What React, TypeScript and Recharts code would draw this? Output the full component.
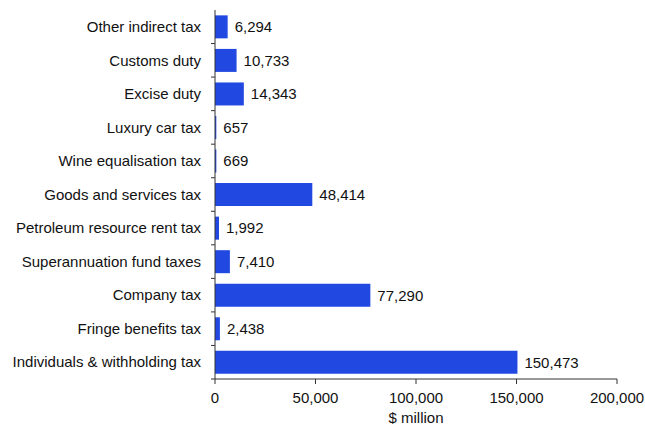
import React from 'react';
import { BarChart, Bar, XAxis, YAxis, LabelList } from 'recharts';

const categories = [
  'Other indirect tax',
  'Customs duty',
  'Excise duty',
  'Luxury car tax',
  'Wine equalisation tax',
  'Goods and services tax',
  'Petroleum resource rent tax',
  'Superannuation fund taxes',
  'Company tax',
  'Fringe benefits tax',
  'Individuals & withholding tax',
];
const values = [6294, 10733, 14343, 657, 669, 48414, 1992, 7410, 77290, 2438, 150473];
const xTicks = [0, 50000, 100000, 150000, 200000];

const data = categories.map((name, i) => ({ name, value: values[i] }));

const fmt = (v: number) => v.toLocaleString('en-US');
const FONT = '"Liberation Sans", Arial, sans-serif';
const AXIS = '#333333';
const TEXT = '#111111';
const BAR = '#2148e0';

const CatTick = (props: any) => {
  const { x, y, payload } = props;
  const off = payload && payload.offset != null ? payload.offset : 16.8;
  return (
    <g>
      <text x={x - 14} y={y} dy="0.35em" textAnchor="end" fontSize={15} fontFamily={FONT} fill={TEXT}>
        {payload.value}
      </text>
      <line x1={x - 4} x2={x} y1={y + off} y2={y + off} stroke={AXIS} strokeWidth={1} />
    </g>
  );
};

export default function App() {
  return (
    <div style={{ position: 'absolute', left: 0, top: 0, width: 645, height: 426, background: '#fff' }}>
      <BarChart
        width={645}
        height={426}
        data={data}
        layout="vertical"
        margin={{ top: 10, right: 28, bottom: 0, left: 0 }}
        barCategoryGap="16%"
      >
        <XAxis
          type="number"
          domain={[0, 200000]}
          ticks={xTicks}
          tickFormatter={fmt}
          height={47}
          tickSize={5}
          tickMargin={8}
          stroke={AXIS}
          tick={{ fontSize: 15, fontFamily: FONT, fill: TEXT }}
          label={{ value: '$ million', position: 'insideBottom', offset: 3, fontSize: 15, fontFamily: FONT, fill: TEXT }}
        />
        <YAxis
          type="category"
          dataKey="name"
          width={215}
          tickLine={false}
          tickSize={0}
          tickMargin={0}
          stroke={AXIS}
          interval={0}
          tick={<CatTick />}
        />
        <Bar dataKey="value" fill={BAR} isAnimationActive={false}>
          <LabelList
            dataKey="value"
            position="right"
            offset={7}
            formatter={(v: any) => fmt(Number(v))}
            style={{ fontSize: 15, fontFamily: FONT, fill: TEXT }}
          />
        </Bar>
      </BarChart>
    </div>
  );
}
